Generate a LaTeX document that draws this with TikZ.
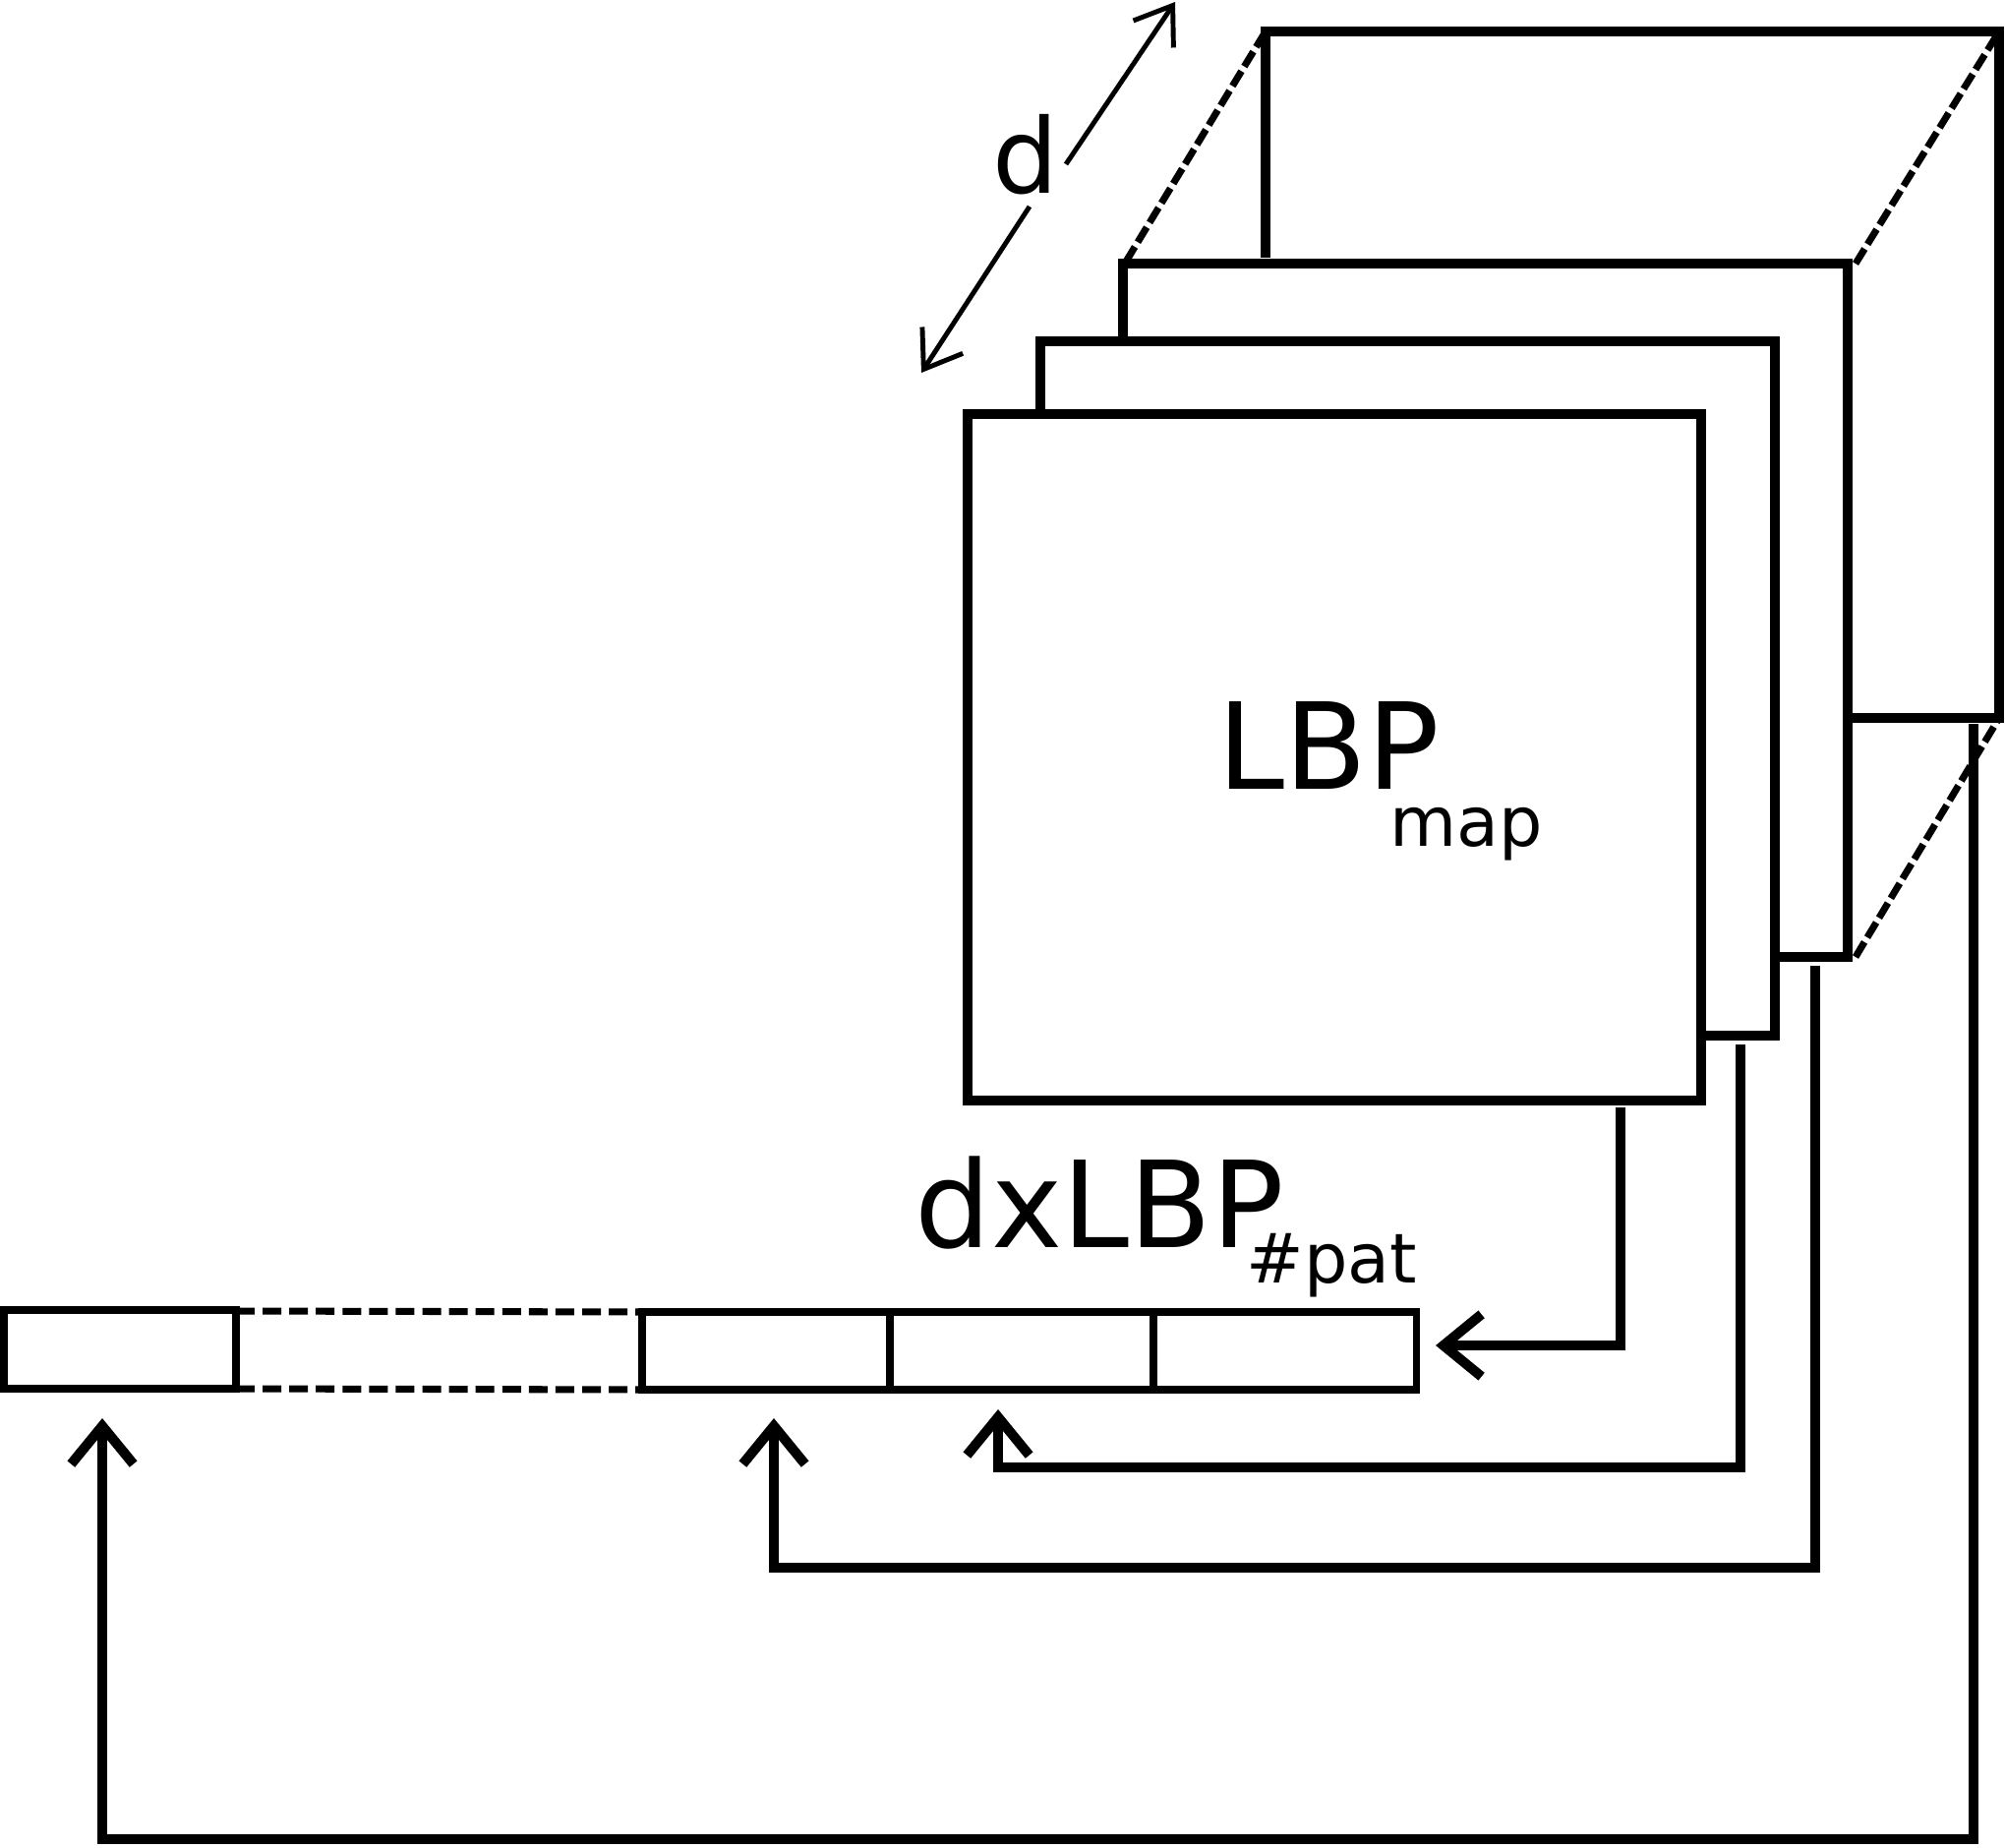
\documentclass[tikz,border=0pt]{standalone}
\usepackage{fontspec}
\setmainfont{DejaVu Sans}
\usetikzlibrary{arrows.meta}
\tikzset{
  edge/.style={line width=2.85pt},
  hidden/.style={line width=2pt, dash pattern=on 5pt off 1.6pt},
  barline/.style={line width=2pt},
  bardash/.style={line width=2pt, dash pattern=on 5.4pt off 2.3pt},
  conn/.style={line width=2.85pt, -{Straight Barb[length=11pt,width=18pt]}},
  dimarrow/.style={line width=1.4pt, -{Straight Barb[length=10pt,width=14pt]}},
  lbl/.style={inner sep=0pt, anchor=base west}
}
\newcommand{\subfnt}{\fontsize{19.9pt}{23pt}\selectfont}
\begin{document}
\begin{tikzpicture}[x=0.01cm,y=-0.01cm]
\useasboundingbox (0,0) rectangle (2039,1879);
% coordinates of the stacked maps
\coordinate (Fnw) at (984,421);
\coordinate (Fse) at (1730,1119);
% front map
\draw[edge] (Fnw) rectangle (Fse);
% second map
\draw[edge] (1058,421) -- (1058,347) -- (1805,347) -- (1805,1053) -- (1730,1053);
% third map
\draw[edge] (1142,347) -- (1142,268) -- (1879,268) -- (1879,973) -- (1805,973);
% back map
\draw[edge] (1287,262) -- (1287,32) -- (2033,32) -- (2033,730) -- (1879,730);
% hidden edges
\coordinate (Ttl) at (1145,266);
\coordinate (Btl) at (1287,32);
\coordinate (Ttr) at (1887,268);
\coordinate (Btr) at (2033,32);
\coordinate (Tbr) at (1887,973);
\coordinate (Bbr) at (2033,730);
\draw[hidden] (Ttl) -- (Btl);
\draw[hidden] (Ttr) -- (Btr);
\draw[hidden] (Tbr) -- (Bbr);
% depth arrow
\coordinate (dlo1) at (1047,210);
\coordinate (dlo2) at (937,379);
\coordinate (dhi1) at (1084,167);
\coordinate (dhi2) at (1195,2);
\draw[dimarrow] (dlo1) -- (dlo2);
\draw[dimarrow] (dhi1) -- (dhi2);
\node[lbl, font=\fontsize{30pt}{34pt}\selectfont] (dlab) at (1009,197) {d};
% labels
\node[lbl, font=\fontsize{34.7pt}{40pt}\selectfont] (lbp) at (1238,802)
  {LBP\kern-14.5pt\raisebox{-16.5pt}{\subfnt map}};
\node[lbl, font=\fontsize{34.7pt}{40pt}\selectfont] (dx) at (930,1268)
  {dxLBP\kern-10.8pt\raisebox{-10.5pt}{\subfnt\#pat}};
% histogram bar
\coordinate (L1) at (4,1332);
\coordinate (L2) at (240,1412);
\draw[barline] (L1) rectangle (L2);
\coordinate (D1) at (240,1333);
\coordinate (D2) at (653,1334);
\coordinate (D3) at (240,1412);
\coordinate (D4) at (653,1413);
\draw[bardash] (D1) -- (D2);
\draw[bardash] (D3) -- (D4);
\coordinate (R1) at (653,1334);
\coordinate (R2) at (1440,1413);
\draw[barline] (R1) rectangle (R2);
\draw[barline] (905,1334) -- (905,1413);
\draw[barline] (1173,1334) -- (1173,1413);
% connectors
\coordinate (c1s) at (1648,1126);
\coordinate (c1t) at (1460,1368);
\draw[conn] (c1s) |- (c1t);
\coordinate (c2s) at (1770,1062);
\coordinate (c2m) at (1770,1492);
\coordinate (c2t) at (1015,1433);
\draw[conn] (c2s) -- (c2m) -| (c2t);
\coordinate (c3s) at (1846,982);
\coordinate (c3m) at (1846,1594);
\coordinate (c3t) at (787,1442);
\draw[conn] (c3s) -- (c3m) -| (c3t);
\coordinate (c4s) at (2007,736);
\coordinate (c4m) at (2007,1870);
\coordinate (c4t) at (104,1442);
\draw[conn] (c4s) -- (c4m) -| (c4t);
\end{tikzpicture}
\end{document}
